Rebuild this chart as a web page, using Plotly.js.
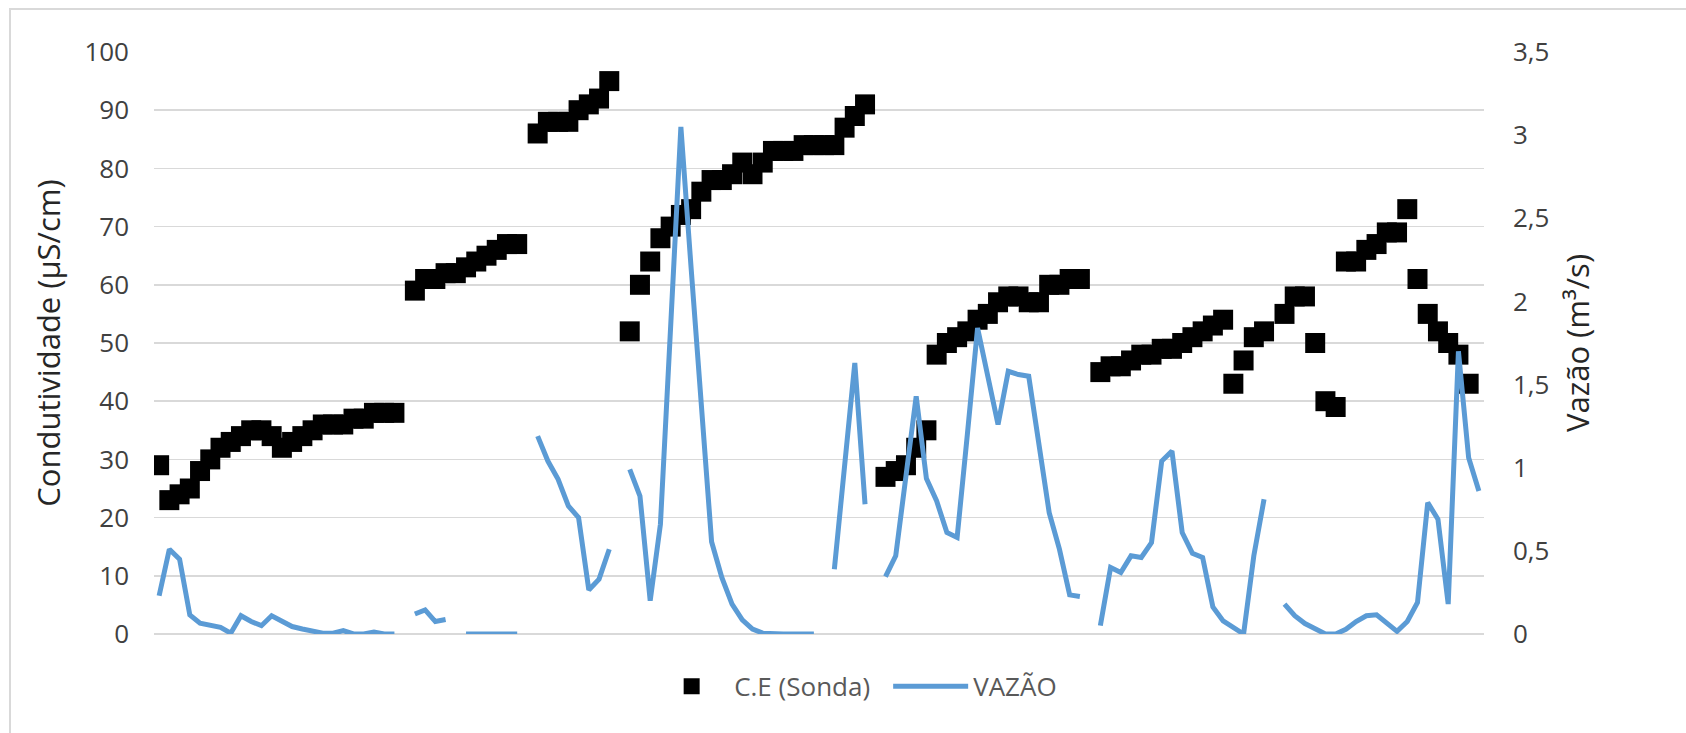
<!DOCTYPE html>
<html>
<head>
<meta charset="utf-8">
<script src="https://cdn.plot.ly/plotly-3.0.1.min.js"></script>
<style>
  html, body { margin: 0; padding: 0; background: #ffffff; overflow: hidden; }
  #chart { position: absolute; left: 0; top: 0; width: 1686px; height: 733px; }
  #frame { position: absolute; left: 9px; top: 8px; width: 1720px; height: 780px;
           border-left: 2px solid #d9d9d9; border-top: 2px solid #d9d9d9; pointer-events: none; }
</style>
</head>
<body>
<div id="chart"></div>
<div id="frame"></div>
<script>
// ---- data (one entry per sample; null = no reading) ----
const seriesNames = ["C.E (Sonda)", "VAZÃO"];
const leftAxisTitle = "Condutividade (µS/cm)";
const rightAxisTitle = "Vazão (m³/s)";

const ceSonda = [
  29, 23, 24, 25, 28, 30, 32, 33, 34, 35, 35, 34, 32, 33, 34, 35, 36, 36, 36, 37, 37, 38, 38, 38,
  null,
  59, 61, 61, 62, 62, 63, 64, 65, 66, 67, 67,
  null,
  86, 88, 88, 88, 90, 91, 92, 95,
  null,
  52, 60, 64, 68, 70, 72, 73, 76, 78, 78, 79, 81, 79, 81, 83, 83, 83, 84, 84, 84, 84, 87, 89, 91,
  null,
  27, 28, 29, 32, 35, 48, 50, 51, 52, 54, 55, 57, 58, 58, 57, 57, 60, 60, 61, 61,
  null,
  45, 46, 46, 47, 48, 48, 49, 49, 50, 51, 52, 53, 54,
  43, 47, 51, 52,
  null,
  55, 58, 58, 50, 40, 39, 64, 64, 66, 67, 69, 69, 73, 61, 55, 52, 50, 48, 43,
  null
];

const vazao = [
  0.23, 0.51, 0.45, 0.115, 0.065, 0.05, 0.04, 0.005, 0.11, 0.075, 0.05, 0.11, 0.075, 0.045, 0.03, 0.015, 0.005, 0.005, 0.02, 0, 0, 0.012, 0, 0,
  null,
  0.12, 0.145, 0.075, 0.087,
  null,
  0, 0, 0, 0, 0, 0,
  null,
  1.19, 1.04, 0.93, 0.77, 0.70, 0.265, 0.33, 0.51,
  null,
  0.99, 0.83, 0.2, 0.66, 1.85, 3.05, 2.2, 1.4, 0.555, 0.34, 0.18, 0.085, 0.03, 0.005, 0, 0, 0, 0, 0,
  null,
  0.39, 1.0, 1.63, 0.78,
  null,
  0.345, 0.47, 0.95, 1.43, 0.935, 0.8, 0.61, 0.58, 1.2, 1.84, 1.55, 1.26, 1.58, 1.56, 1.55, 1.12, 0.73, 0.51, 0.235, 0.225,
  null,
  0.05, 0.4, 0.37, 0.47, 0.46, 0.55, 1.04, 1.1, 0.61, 0.485, 0.46, 0.163, 0.079, 0.035, 0, 0.47, 0.81,
  null,
  0.18, 0.11, 0.063, 0.035, 0, 0, 0.028, 0.075, 0.11, 0.115, 0.063, 0.016, 0.075, 0.19, 0.79, 0.69, 0.18, 1.70, 1.06, 0.86
];

// category positions (sample number)
const categories = ceSonda.map((_, i) => i + 1);

const FONT = "Open Sans, Liberation Sans, sans-serif";

const traces = [
  {
    type: "scatter", mode: "markers", name: seriesNames[0],
    x: categories, y: ceSonda, yaxis: "y",
    marker: { symbol: "square", size: 20, color: "#000000" },
    hoverinfo: "x+y"
  },
  {
    type: "scatter", mode: "lines", name: seriesNames[1],
    x: categories, y: vazao, yaxis: "y2",
    connectgaps: false,
    line: { color: "#5B9BD5", width: 5 },
    hoverinfo: "x+y"
  }
];

const layout = {
  width: 1686, height: 733,
  margin: { l: 154, r: 202, t: 52, b: 99, pad: 0 },
  paper_bgcolor: "#ffffff", plot_bgcolor: "#ffffff",
  separators: ",.",
  font: { family: FONT, color: "#404040" },
  showlegend: true,
  legend: {
    orientation: "h", x: 0.552, xanchor: "center", y: -0.09, yanchor: "middle",
    font: { family: FONT, size: 26, color: "#595959" },
    itemwidth: 75, entrywidth: 149, entrywidthmode: "pixels",
    tracegroupgap: 0, bgcolor: "rgba(0,0,0,0)"
  },
  xaxis: {
    range: [0.5, categories.length + 0.5],
    showticklabels: false, ticks: "", showgrid: false, zeroline: false, showline: false,
    fixedrange: true
  },
  yaxis: {
    range: [0, 100], dtick: 10, tick0: 0,
    showgrid: true, gridcolor: "#d9d9d9", gridwidth: 1.5,
    zeroline: true, zerolinecolor: "#d9d9d9", zerolinewidth: 1.5,
    showline: false, ticks: "", ticklabelstandoff: 24,
    tickfont: { family: FONT, size: 26, color: "#404040" },
    title: { text: leftAxisTitle, font: { family: FONT, size: 31, color: "#262626" }, standoff: 14 }
  },
  yaxis2: {
    range: [0, 3.5], dtick: 0.5, tick0: 0,
    overlaying: "y", side: "right",
    showgrid: false, zeroline: false, showline: false, ticks: "", ticklabelstandoff: 28,
    tickfont: { family: FONT, size: 26, color: "#404040" },
    title: { text: rightAxisTitle, font: { family: FONT, size: 31, color: "#262626" }, standoff: 18 }
  }
};

Plotly.newPlot("chart", traces, layout, { staticPlot: true, displayModeBar: false });
</script>
</body>
</html>
